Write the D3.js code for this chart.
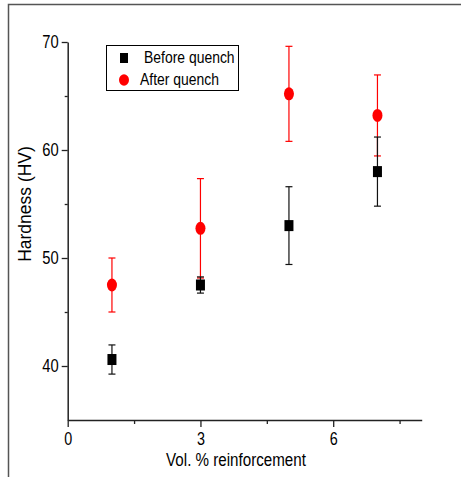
<!DOCTYPE html>
<html>
<head>
<meta charset="utf-8">
<script src="https://cdn.jsdelivr.net/npm/d3@7"></script>
<style>
  html, body { margin: 0; padding: 0; background: #fff; }
  svg { display: block; }
  text { font-family: "Liberation Sans", Arial, sans-serif; fill: #000; }
</style>
</head>
<body>
<svg id="chart" width="461" height="477"></svg>
<script>
// ---- data ----
const volPercent = [1, 3, 5, 7];
const beforeQuench = [40.6, 47.5, 53.0, 58.0];
const beforeQuenchErr = [1.35, 0.75, 3.6, 3.2];
const afterQuench = [47.5, 52.75, 65.2, 63.2];
const afterQuenchErr = [2.5, 4.6, 4.4, 3.75];
const xTicks = [0, 3, 6];
const xMinorTicks = [1.5, 4.5, 7.5];
const yTicks = [40, 50, 60, 70];
const yMinorTicks = [45, 55, 65];
const seriesNames = ["Before quench", "After quench"];
const xTitle = "Vol. % reinforcement";
const yTitle = "Hardness (HV)";

const NARROW = 0.82; // horizontal condensing of text glyphs

const svg = d3.select("#chart");

// outer frame (left and top edges only)
svg.append("path")
  .attr("d", "M8.5,477 L8.5,4.5 L461,4.5")
  .attr("fill", "none").attr("stroke", "#555").attr("stroke-width", 1.5);

const x = d3.scaleLinear().domain([0, 8]).range([67.7, 421.7]);
const y = d3.scaleLinear().domain([35, 70]).range([420, 42]);

// x axis
const gx = svg.append("g").attr("transform", `translate(0,${y(35)})`);
gx.call(d3.axisBottom(x).tickValues(xTicks).tickSize(7).tickSizeOuter(0).tickPadding(6).tickFormat(d3.format("d")));
gx.selectAll(".tick text").attr("transform", `scale(${NARROW},1)`).attr("font-size", 17.5);
const gxm = svg.append("g").attr("transform", `translate(0,${y(35)})`);
gxm.call(d3.axisBottom(x).tickValues(xMinorTicks).tickSize(4).tickSizeOuter(0).tickFormat(""));
gxm.select(".domain").remove();

// y axis
const gy = svg.append("g").attr("transform", `translate(${x(0)},0)`);
gy.call(d3.axisLeft(y).tickValues(yTicks).tickSize(6).tickSizeOuter(0).tickPadding(3).tickFormat(d3.format("d")));
gy.selectAll(".tick text").attr("x", -9 / NARROW).attr("transform", `scale(${NARROW},1)`).attr("font-size", 18);
const gym = svg.append("g").attr("transform", `translate(${x(0)},0)`);
gym.call(d3.axisLeft(y).tickValues(yMinorTicks).tickSize(3).tickSizeOuter(0).tickFormat(""));
gym.select(".domain").remove();

svg.selectAll(".domain").attr("stroke", "#222").attr("stroke-width", 1.5);
svg.selectAll(".tick line").attr("stroke", "#222").attr("stroke-width", 1.3);
svg.selectAll(".tick text")
  .attr("font-family", "'Liberation Sans', Arial, sans-serif").attr("fill", "#000");

// axis titles
svg.append("text")
  .attr("transform", `translate(236,466) scale(${NARROW},1)`)
  .attr("text-anchor", "middle").attr("font-size", 18.5)
  .text(xTitle);

svg.append("text")
  .attr("transform", `translate(31,${204}) rotate(-90)`)
  .attr("text-anchor", "middle").attr("font-size", 17.5)
  .text(yTitle);

const capW = 3.5;
function errorBars(vals, errs, color) {
  const g = svg.append("g").attr("stroke", color).attr("stroke-width", 1.2).attr("fill", "none");
  volPercent.forEach((v, i) => {
    const cx = x(v), top = y(vals[i] + errs[i]), bot = y(vals[i] - errs[i]);
    g.append("line").attr("x1", cx).attr("x2", cx).attr("y1", top).attr("y2", bot);
    g.append("line").attr("x1", cx - capW).attr("x2", cx + capW).attr("y1", top).attr("y2", top);
    g.append("line").attr("x1", cx - capW).attr("x2", cx + capW).attr("y1", bot).attr("y2", bot);
  });
}

// After quench (red) first
errorBars(afterQuench, afterQuenchErr, "#ff0000");
svg.append("g").selectAll("ellipse").data(volPercent).join("ellipse")
  .attr("cx", d => x(d)).attr("cy", (d, i) => y(afterQuench[i]))
  .attr("rx", 5).attr("ry", 6.5).attr("fill", "#ff0000");

// Before quench (black)
errorBars(beforeQuench, beforeQuenchErr, "#111");
svg.append("g").selectAll("rect").data(volPercent).join("rect")
  .attr("x", d => x(d) - 4.5).attr("y", (d, i) => y(beforeQuench[i]) - 5.5)
  .attr("width", 9).attr("height", 11).attr("fill", "#000");

// legend
const lg = svg.append("g");
lg.append("rect").attr("x", 106.5).attr("y", 45.5).attr("width", 132).attr("height", 45)
  .attr("fill", "#fff").attr("stroke", "#000").attr("stroke-width", 1);
lg.append("rect").attr("x", 120).attr("y", 53).attr("width", 8).attr("height", 10).attr("fill", "#000");
lg.append("ellipse").attr("cx", 124).attr("cy", 80).attr("rx", 5).attr("ry", 5.8).attr("fill", "#ff0000");
lg.append("text").attr("transform", `translate(144,63) scale(${NARROW},1)`).attr("font-size", 17).text(seriesNames[0]);
lg.append("text").attr("transform", `translate(140,85) scale(${NARROW},1)`).attr("font-size", 17).text(seriesNames[1]);
</script>
</body>
</html>
